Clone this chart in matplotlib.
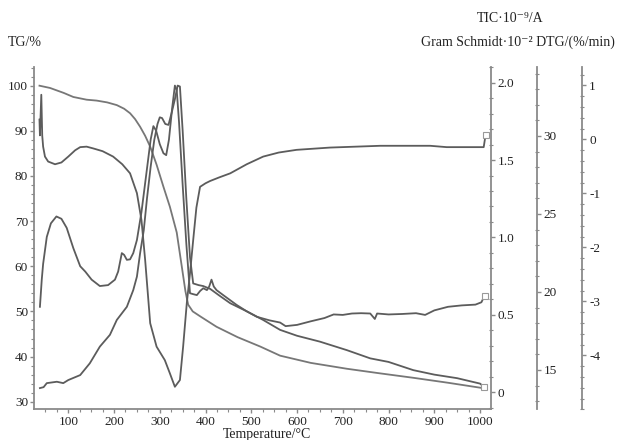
import matplotlib
matplotlib.use('Agg')
import matplotlib.pyplot as plt
from matplotlib.ticker import MultipleLocator

# ---------------- data ----------------
tg_T = [37, 60, 90, 111, 140, 162, 185, 206, 222, 235, 246, 257, 268, 279, 293, 308, 322, 337,
        348, 356, 362, 372, 390, 424, 470, 520, 563, 630, 709, 780, 854, 930, 1007, 1012]
tg_val = [100, 99.5, 98.4, 97.5, 96.9, 96.7, 96.3, 95.7, 94.9, 93.9, 92.6, 90.9, 88.9, 86.5, 82.5,
          77.6, 73.2, 67.5, 60, 54.5, 51.5, 50, 48.8, 46.6, 44.3, 42.2, 40.2, 38.6, 37.3, 36.3,
          35.3, 34.2, 33.0, 32.9]

dtg_T = [37, 38, 41, 43, 45, 49, 56, 71, 85, 100, 115, 126, 140, 155, 175, 198, 218, 235, 250,
         260, 268, 279, 293, 311, 322, 333, 344, 351, 359, 366, 373, 380, 388, 400, 410, 430,
         454, 490, 526, 560, 599, 672, 782, 891, 927, 1008, 1012]
dtg_val = [0.365, 0.073, 0.825, 0.073, -0.136, -0.320, -0.412, -0.462, -0.429, -0.320, -0.203,
           -0.145, -0.136, -0.170, -0.220, -0.320, -0.462, -0.630, -0.997, -1.499, -2.235,
           -3.405, -3.840, -4.090, -4.333, -4.583, -4.458, -3.840, -3.037, -2.485, -1.867,
           -1.265, -0.880, -0.814, -0.772, -0.705, -0.630, -0.462, -0.320, -0.245, -0.195,
           -0.153, -0.120, -0.120, -0.145, -0.145, 0.073]

gs_T = [38, 42, 45, 53, 62, 74, 85, 96.5, 111, 126, 137, 151, 169, 187, 202, 209, 217, 222, 228,
        235, 242, 250, 260, 270, 280, 286, 292, 300, 308, 314, 320, 327, 333, 337, 342, 350, 358,
        366, 373, 381, 388, 395, 403, 408, 413, 418, 424, 440, 468, 490, 512, 540, 563, 575, 600,
        630, 660, 680, 700, 720, 740, 760, 770, 775, 800, 830, 860, 880, 900, 930, 960, 990,
        1003, 1010]
gs_val = [19.05, 20.79, 21.80, 23.53, 24.40, 24.84, 24.69, 24.11, 22.81, 21.65, 21.31, 20.79,
          20.38, 20.44, 20.79, 21.31, 22.49, 22.38, 22.06, 22.09, 22.49, 23.33, 25.13, 27.44,
          29.76, 30.63, 30.34, 29.47, 28.89, 28.77, 29.76, 31.78, 33.23, 32.94, 30.91, 26.86,
          23.10, 19.92, 19.86, 19.80, 20.06, 20.24, 20.12, 20.35, 20.79, 20.35, 20.12, 19.77,
          19.17, 18.76, 18.41, 18.18, 18.04, 17.81, 17.89, 18.12, 18.33, 18.56, 18.53, 18.62,
          18.64, 18.62, 18.27, 18.62, 18.56, 18.59, 18.64, 18.53, 18.82, 19.05, 19.14, 19.19,
          19.34, 19.77]

tic_T = [38, 46, 53, 75, 89, 100, 126, 147, 169, 191, 206, 228, 242, 250, 257, 265, 272, 280,
         288, 295, 300, 305, 312, 319, 326, 333, 339, 344, 350, 358, 366, 373, 385, 395, 410,
         430, 454, 490, 526, 563, 600, 650, 709, 760, 800, 854, 900, 950, 1000, 1008]
tic_val = [0.027, 0.033, 0.059, 0.068, 0.059, 0.079, 0.111, 0.187, 0.295, 0.371, 0.467, 0.552,
           0.660, 0.747, 0.899, 1.047, 1.252, 1.456, 1.631, 1.733, 1.776, 1.771, 1.733, 1.727,
           1.806, 1.893, 1.981, 1.975, 1.689, 1.252, 0.872, 0.703, 0.692, 0.686, 0.668, 0.625,
           0.575, 0.523, 0.467, 0.403, 0.365, 0.327, 0.272, 0.219, 0.196, 0.143, 0.114, 0.091,
           0.056, 0.036]

x_ticks = [100, 200, 300, 400, 500, 600, 700, 800, 900, 1000]
tg_ticks = [30, 40, 50, 60, 70, 80, 90, 100]
tic_ticks = [0, 0.5, 1.0, 1.5, 2.0]
tic_labels = ['0', '0.5', '1.0', '1.5', '2.0']
gs_ticks = [15, 20, 25, 30]
dtg_ticks = [-4, -3, -2, -1, 0, 1]

# ---------------- style ----------------
plt.rcParams['font.family'] = ['Liberation Serif', 'DejaVu Serif']
plt.rcParams['font.size'] = 9.5
plt.rcParams['axes.unicode_minus'] = False
SP = '#8a8a8a'
LC = '#5c5c5c'
TXT = '#222222'
LW = 1.3

fig = plt.figure(figsize=(6.17, 4.40), dpi=100)
W, H = 617.0, 440.0
L, R, B, T = 34.3, 490.7, 409.3, 67.0
ax = fig.add_axes([L / W, (H - B) / H, (R - L) / W, (B - T) / H])
ax.set_xlim(25.7, 1023.3)
ax.set_ylim(28.32, 104.14)

ax_tic = ax.twinx()
ax_tic.set_ylim(-0.11, 2.101)
ax_gs = ax.twinx()
ax_gs.set_ylim(12.48, 34.42)
ax_dtg = ax.twinx()
ax_dtg.set_ylim(-5.0, 1.339)

for a in (ax, ax_tic, ax_gs, ax_dtg):
    a.patch.set_visible(False)
    for s in a.spines.values():
        s.set_visible(False)
        s.set_color(SP)
        s.set_linewidth(1.3)

ax.spines['left'].set_visible(True)
ax.spines['bottom'].set_visible(True)
ax_tic.spines['right'].set_visible(True)
ax_gs.spines['right'].set_visible(True)
ax_gs.spines['right'].set_position(('axes', 1 + 46.0 / (R - L)))
ax_dtg.spines['right'].set_visible(True)
ax_dtg.spines['right'].set_position(('axes', 1 + 91.6 / (R - L)))

ax.set_xticks(x_ticks)
ax.xaxis.set_minor_locator(MultipleLocator(25))
ax.set_yticks(tg_ticks)
ax.yaxis.set_minor_locator(MultipleLocator(2))
ax.tick_params(axis='both', which='major', direction='out', length=3, width=1, color=SP,
               labelcolor=TXT, labelsize=9.5, pad=1.5)
ax.tick_params(axis='both', which='minor', direction='out', length=2, width=0.8, color=SP)

ax_tic.set_yticks(tic_ticks)
ax_tic.set_yticklabels(tic_labels)
ax_tic.yaxis.set_minor_locator(MultipleLocator(0.1))
ax_gs.set_yticks(gs_ticks)
ax_gs.yaxis.set_minor_locator(MultipleLocator(1))
ax_dtg.set_yticks(dtg_ticks)
ax_dtg.yaxis.set_minor_locator(MultipleLocator(0.2))
for a in (ax_tic, ax_gs, ax_dtg):
    a.tick_params(axis='y', which='major', direction='out', length=3, width=1, color=SP,
                  labelcolor=TXT, labelsize=9.5, pad=2)
    a.tick_params(axis='y', which='minor', direction='inout', length=3, width=0.8, color=SP)

# ---------------- curves ----------------
ax.plot(tg_T, tg_val, color='#777777', lw=LW)
ax_dtg.plot(dtg_T, dtg_val, color=LC, lw=LW)
ax_gs.plot(gs_T, gs_val, color=LC, lw=LW)
ax_tic.plot(tic_T, tic_val, color=LC, lw=LW)

# end markers (small icons)
ax_dtg.plot(dtg_T[-1:], dtg_val[-1:], marker='s', ms=4, mfc='white', mec='#999999', mew=0.8)
ax_gs.plot(gs_T[-1:], gs_val[-1:], marker='s', ms=4, mfc='white', mec='#999999', mew=0.8)
ax_tic.plot(tic_T[-1:], tic_val[-1:], marker='s', ms=4, mfc='white', mec='#999999', mew=0.8)

# ---------------- texts ----------------
ax.set_xlabel('Temperature/°C', fontsize=10, color=TXT, labelpad=0)
ax.xaxis.set_label_coords(0.51, -0.055)
fig.text(8 / W, 1 - 42 / H, 'TG/%', fontsize=10, color=TXT, ha='left', va='center')
fig.text(510 / W, 1 - 18 / H, 'TIC·10⁻⁹/A', fontsize=10, color=TXT, ha='center', va='center')
fig.text(615 / W, 1 - 42 / H, 'Gram Schmidt·10⁻² DTG/(%/min)', fontsize=10, color=TXT,
         ha='right', va='center')

fig.savefig('out.png', dpi=100)
